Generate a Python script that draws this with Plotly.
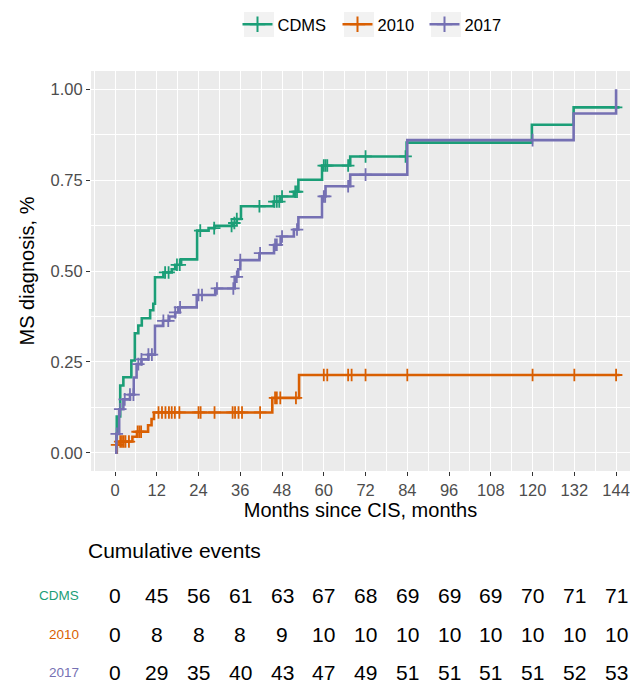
import numpy as np
import plotly.graph_objects as go

# ---------------- data ----------------
series_names = ["CDMS", "2010", "2017"]
series_colors = ["#1B9E77", "#D95F02", "#7570B3"]

cdms_time = [0, 0.5, 1.5, 2.4, 4.7, 5.7, 6.7, 7.7, 10.1, 11.0, 11.5, 13.9, 16.3, 17.3, 19.0,
             23.6, 26.9, 28.6, 34.0, 35.0, 36.2, 45.6, 47.5, 51.4, 52.7, 59.5, 67.6, 83.8,
             119.8, 131.8, 145.0]
cdms_prob = [0, 0.10, 0.185, 0.208, 0.254, 0.329, 0.35, 0.37, 0.392, 0.41, 0.483, 0.496, 0.505,
             0.517, 0.532, 0.611, 0.618, 0.624, 0.632, 0.643, 0.678, 0.691, 0.705, 0.718, 0.751,
             0.79, 0.815, 0.853, 0.902, 0.95, 0.95]
cdms_censor = [14.4, 15.4, 17.8, 18.6, 24.5, 28.5, 33.5, 34.3, 35.0, 41.5, 45.8, 46.5, 47.2,
               48.0, 51.8, 52.3, 60.0, 60.5, 61.0, 67.0, 72.0, 83.5, 144.0]

d2010_time = [0, 0.5, 1.3, 5.0, 6.3, 9.5, 10.5, 11.2, 45.2, 52.9, 145.0]
d2010_prob = [0, 0.022, 0.031, 0.044, 0.058, 0.076, 0.093, 0.111, 0.151, 0.214, 0.214]
d2010_censor = [0.6, 1.5, 2.0, 2.5, 3.0, 4.0, 6.5, 7.0, 7.5, 12.5, 13.5, 14.5, 15.5, 16.3, 17.2,
                18.5, 24.0, 24.6, 28.6, 33.8, 34.5, 35.5, 36.5, 41.7, 46.0, 46.5, 47.5, 52.0,
                60.0, 61.0, 67.0, 68.0, 72.0, 84.0, 120.0, 132.0, 144.0]

d2017_time = [0, 0.4, 1.2, 2.4, 4.3, 5.4, 6.2, 7.6, 9.6, 11.5, 13.8, 15.6, 17.3, 18.2, 23.5,
              28.8, 34.4, 35.4, 36.0, 41.5, 45.7, 47.6, 51.4, 52.7, 59.5, 60.5, 67.6, 84.0,
              131.8, 144.0]
d2017_prob = [0, 0.052, 0.12, 0.147, 0.16, 0.207, 0.244, 0.257, 0.27, 0.349, 0.363, 0.375,
              0.386, 0.40, 0.434, 0.452, 0.484, 0.505, 0.53, 0.549, 0.572, 0.595, 0.614, 0.648,
              0.705, 0.733, 0.765, 0.86, 0.933, 1.0]
d2017_censor = [0.5, 1.5, 2.8, 4.3, 5.3, 6.7, 7.6, 9.6, 10.6, 13.9, 15.3, 17.3, 18.7, 24.0, 25.0,
                29.3, 34.0, 35.0, 36.0, 41.7, 46.0, 46.5, 48.0, 52.3, 60.0, 60.4, 67.0, 72.0, 120.0]

x_ticks = [0, 12, 24, 36, 48, 60, 72, 84, 96, 108, 120, 132, 144]
y_ticks = [0.0, 0.25, 0.5, 0.75, 1.0]
y_tick_labels = ["0.00", "0.25", "0.50", "0.75", "1.00"]

cum_cdms = [0, 45, 56, 61, 63, 67, 68, 69, 69, 69, 70, 71, 71]
cum_2010 = [0, 8, 8, 8, 9, 10, 10, 10, 10, 10, 10, 10, 10]
cum_2017 = [0, 29, 35, 40, 43, 47, 49, 51, 51, 51, 51, 52, 53]

# ---------------- figure ----------------
FONT = "Liberation Sans, Arial, sans-serif"
W, H = 630, 683
ML, MR, MT, MB = 91, 0, 71, 212
PW, PH = W - ML - MR, H - MT - MB


def px_to_paper_x(px):
    return (px - ML) / PW


def px_to_paper_y(py):
    return (H - MB - py) / PH


fig = go.Figure()

curves = [
    (cdms_time, cdms_prob, cdms_censor),
    (d2010_time, d2010_prob, d2010_censor),
    (d2017_time, d2017_prob, d2017_censor),
]


def step_at(times, probs, t):
    i = int(np.searchsorted(np.asarray(times), t, side="right")) - 1
    return probs[max(i, 0)]


legend_ids = ["legend", "legend2", "legend3"]
for name, col, lg, (tt, pp, cc) in zip(series_names, series_colors, legend_ids, curves):
    fig.add_trace(go.Scatter(
        x=tt, y=pp, mode="lines", line=dict(color=col, width=2.6, shape="hv"),
        name=name, legendgroup=name, showlegend=False, hoverinfo="skip"))
    fig.add_trace(go.Scatter(
        x=cc, y=[step_at(tt, pp, c) for c in cc], mode="markers",
        marker=dict(symbol="cross-thin", size=9, color=col, line=dict(color=col, width=1.8)),
        name=name, legendgroup=name, showlegend=False, hoverinfo="skip"))
    fig.add_trace(go.Scatter(
        x=[None], y=[None], mode="lines+markers",
        line=dict(color=col, width=2.6),
        marker=dict(symbol="cross-thin", size=11, color=col, line=dict(color=col, width=2)),
        name=name, legendgroup=name, showlegend=True, legend=lg))

# legend key backgrounds (ggplot-style grey key boxes)
key_left = [244, 344, 431]
for kl in key_left:
    fig.add_shape(type="rect", xref="paper", yref="paper", layer="above",
                  x0=px_to_paper_x(kl), x1=px_to_paper_x(kl + 30),
                  y0=px_to_paper_y(37), y1=px_to_paper_y(12),
                  fillcolor="#F2F2F2", line=dict(width=0))

legend_common = dict(orientation="h", yanchor="middle", y=px_to_paper_y(24.5), xanchor="left",
                     font=dict(family=FONT, size=16.5, color="black"),
                     bgcolor="rgba(0,0,0,0)", itemwidth=30)

# risk-table style annotations
fig.add_annotation(text="Cumulative events", xref="paper", yref="paper", x=px_to_paper_x(86),
                   y=px_to_paper_y(550), xanchor="left", yanchor="middle", showarrow=False,
                   font=dict(family=FONT, size=21, color="black"))
row_py = [595, 634, 672]
for name, col, vals, py in zip(series_names, series_colors, [cum_cdms, cum_2010, cum_2017], row_py):
    fig.add_annotation(text=name, xref="paper", yref="paper", x=px_to_paper_x(81),
                       y=px_to_paper_y(py), xanchor="right", yanchor="middle", showarrow=False,
                       font=dict(family=FONT, size=13.5, color=col))
    for xv, v in zip(x_ticks, vals):
        fig.add_annotation(text=str(v), xref="x", yref="paper", x=xv, y=px_to_paper_y(py),
                           xanchor="center", yanchor="middle", showarrow=False,
                           font=dict(family=FONT, size=21, color="black"))

fig.update_layout(
    width=W, height=H,
    margin=dict(l=ML, r=MR, t=MT, b=MB),
    paper_bgcolor="white", plot_bgcolor="#EBEBEB",
    font=dict(family=FONT, color="black"),
    showlegend=True,
    legend=dict(x=px_to_paper_x(237.5), **legend_common),
    legend2=dict(x=px_to_paper_x(337.5), **legend_common),
    legend3=dict(x=px_to_paper_x(424.5), **legend_common),
)
fig.update_xaxes(
    range=[-6.9, 148.0], tickmode="array", tickvals=x_ticks,
    ticks="outside", ticklen=4, tickwidth=1.1, tickcolor="#333333",
    tickfont=dict(family=FONT, size=16.5, color="#4D4D4D"),
    showgrid=True, gridcolor="white", gridwidth=1.3, zeroline=False, showline=False,
    minor=dict(dtick=6, tick0=0, showgrid=True, gridcolor="white", gridwidth=0.6),
    title=dict(text="Months since CIS, months", font=dict(family=FONT, size=20, color="black"),
               standoff=2),
)
fig.update_yaxes(
    range=[-0.05, 1.05], tickmode="array", tickvals=y_ticks, ticktext=y_tick_labels,
    ticks="outside", ticklen=4, tickwidth=1.1, tickcolor="#333333",
    tickfont=dict(family=FONT, size=16.5, color="#4D4D4D"),
    showgrid=True, gridcolor="white", gridwidth=1.3, zeroline=False, showline=False,
    minor=dict(dtick=0.125, tick0=0, showgrid=True, gridcolor="white", gridwidth=0.6),
    title=dict(text="MS diagnosis, %", font=dict(family=FONT, size=20, color="black"),
               standoff=10),
)

fig.write_html(
    "out.html",
    config={"displayModeBar": False},
    post_script="document.body.style.margin='0';document.body.style.overflow='hidden';",
)
